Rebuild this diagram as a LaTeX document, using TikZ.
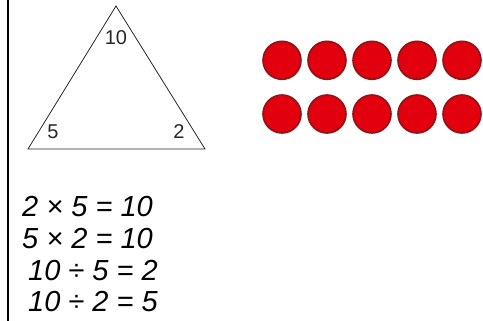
\documentclass[tikz,border=0pt]{standalone}
\usepackage{fontspec}
\setmainfont{Liberation Sans}
\begin{document}
\begin{tikzpicture}[x=1pt,y=-1pt,
  counter/.style={circle,draw=counterborder,fill=counterred,line width=1.6pt,minimum size=38pt,inner sep=0pt},
  trilabel/.style={font=\fontsize{20}{20}\selectfont,inner sep=0pt,text=black!85},
  eqline/.style={anchor=base west,inner sep=0pt,font=\fontsize{29}{29}\selectfont\itshape}]
\definecolor{counterred}{HTML}{E2000F}
\definecolor{counterborder}{HTML}{8E1416}
\useasboundingbox (0,0) rectangle (483,321);
\draw[line width=2.3pt] (7.8,0) -- (7.8,321);
% triangle
\coordinate (apex) at (116,6);
\coordinate (bl) at (28,149);
\coordinate (br) at (205,149);
\draw[line width=0.8pt,black!85] (apex) -- (bl) -- (br) -- cycle;
\node[trilabel] (t10) at (116,38) {10};
\node[trilabel] (t5) at (53,132) {5};
\node[trilabel] (t2) at (179,132) {2};
% counters
\foreach \i in {0,...,4}{
  \node[counter] (a\i) at (282+45*\i,60.3) {};
  \node[counter] (b\i) at (282+45*\i,114) {};
}
% equations
\node[eqline] (e1) at (22,217) {2 × 5 = 10};
\node[eqline] (e2) at (22,248) {5 × 2 = 10};
\node[eqline] (e3) at (28,280) {10 ÷ 5 = 2};
\node[eqline] (e4) at (28,312) {10 ÷ 2 = 5};
\end{tikzpicture}
\end{document}
